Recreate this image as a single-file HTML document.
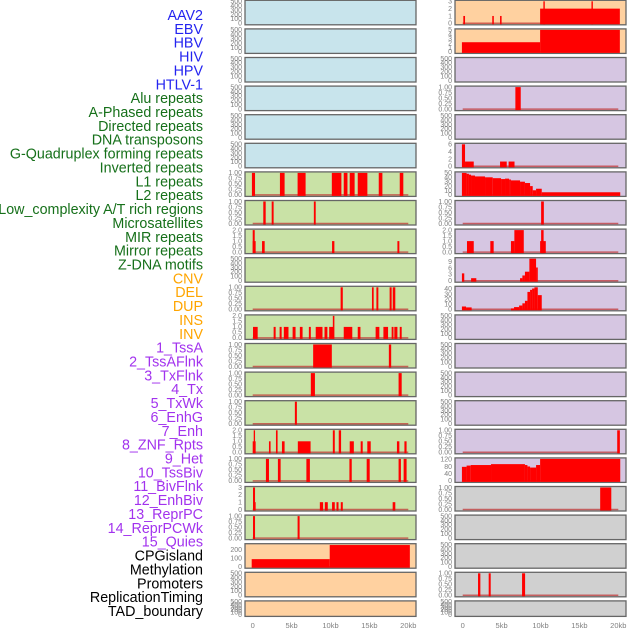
<!DOCTYPE html>
<html><head><meta charset="utf-8"><style>
html,body{margin:0;padding:0;background:#fff;width:630px;height:630px;overflow:hidden}
svg{display:block;font-family:"Liberation Sans",sans-serif}
</style></head><body>
<svg id="chart" width="630" height="630" viewBox="0 0 630 630" xmlns="http://www.w3.org/2000/svg"></svg>
<script>
const trackLabels=["AAV2","EBV","HBV","HIV","HPV","HTLV-1","Alu repeats","A-Phased repeats","Directed repeats","DNA transposons","G-Quadruplex forming repeats","Inverted repeats","L1 repeats","L2 repeats","Low_complexity A/T rich regions","Microsatellites","MIR repeats","Mirror repeats","Z-DNA motifs","CNV","DEL","DUP","INS","INV","1_TssA","2_TssAFlnk","3_TxFlnk","4_Tx","5_TxWk","6_EnhG","7_Enh","8_ZNF_Rpts","9_Het","10_TssBiv","11_BivFlnk","12_EnhBiv","13_ReprPC","14_ReprPCWk","15_Quies","CPGisland","Methylation","Promoters","ReplicationTiming","TAD_boundary"];
const labelGroups=[6,13,5,15,5];
const groupColors=["#2424f0","#16701a","#ffa500","#a232ee","#000000"];
const xTickKb=[0,5,10,15,20];
const xTickLabels=["0","5kb","10kb","15kb","20kb"];
const T500=["0","100","200","300","400","500"];
const T1=["0.00","0.25","0.50","0.75","1.00"];
const T2=["0.0","0.5","1.0","1.5","2.0"];
const T3=["0","1","2","3"];
const leftBg=["b","b","b","b","b","b","g","g","g","g","g","g","g","g","g","g","g","g","g","o","o","o"];
const rightBg=["o","o","p","p","p","p","p","p","p","p","p","p","p","p","p","p","p","y","y","y","y","y"];
const leftTicks=[T500,T500,T500,T500,T500,T500,T1,T1,T2,T500,T1,T2,T1,T1,T1,T2,T1,T3,T1,["0","100","200"],T500,T500];
const leftYmax=[500,500,500,500,500,500,1,1,2,500,1,2,1,1,1,2,1,3,1,262,500,500];
const leftBars=[[],[],[],[],[],[],
[[-0.1,0.3,1],[3.5,4.1,1],[5.77,6.8,1],[10.17,11.4,1],[11.7,12.18,1],[12.47,13.1,1],[13.5,14.74,1],[16.2,16.67,1],[18.9,19.36,1]],
[[1.36,1.67,1],[2.44,2.69,1],[7.86,8.1,1]],
[[0,0.38,1],[0,0.26,2],[1.2,1.54,1],[10.2,10.5,1],[18.6,18.85,1]],
[],
[[11.3,11.58,1],[15.33,15.55,1],[15.9,16.15,1],[17.6,17.86,1],[18,18.33,1]],
[[0.04,0.64,1],[2.69,2.95,1],[3.46,3.72,1],[4.0,4.6,1],[5.13,5.51,1],[6.06,6.41,1],[7.22,7.47,1],[8.1,8.97,1],[9.23,9.6,1],[9.83,10.33,1],[10.3,10.5,2],[11.7,12.8,1],[13.5,13.85,1],[15.8,16.28,1],[16.8,17.4,1],[17.86,18.1,1],[18.2,18.6,1],[18.9,19.15,1]],
[[7.77,10.17,1],[17.5,17.8,1]],
[[7.47,8,1],[18.75,19.15,1]],
[[5.42,5.68,1]],
[[0,0.38,1],[0.13,0.3,2],[2.09,2.3,1],[2.99,3.2,2],[3.76,4.1,1],[5.8,7.44,1],[10.3,10.55,2],[11.06,11.36,2],[12.47,13,1],[13.88,14.14,1],[14.73,15.17,1],[18.54,18.85,1],[19.5,19.78,1]],
[[1.7,2.09,1],[3.24,3.59,1],[6.9,7.35,1],[12.43,12.73,1],[14.65,15.04,1],[18.75,19.05,1],[19.4,19.78,1]],
[[0.04,0.38,1],[0.04,0.3,3],[8.63,9.05,1],[9.27,9.65,1],[10.2,10.55,1],[10.77,11.03,1],[11.32,11.58,1],[17.99,18.33,1]],
[[0.04,0.3,1],[5.77,6.03,1]],
[[-0.13,9.9,90],[9.9,20.2,258]],
[],[]];
const rightTicks=[T3,["0","1","2","3","4","5"],T500,T1,T500,["0","2","4","6"],["0","10","20","30","40","50"],T1,T2,["0","3","6","9"],["0","10","20","30","40"],T500,T500,T500,T500,T1,["0","40","80","120"],T1,T500,T500,T1,T500];
const rightYmax=[3,5,500,1,500,6,50,1,2,10.5,43,500,500,500,500,1,122,1,500,500,1,500];
const rightBars=[
[[0.08,0.3,1],[3.8,4.0,1],[4.8,5.0,1],[9.95,20.2,2],[10.37,10.55,3],[16.55,16.73,3]],
[[-0.1,9.95,2.2],[9.95,20.2,5]],
[],
[[6.77,7.46,1]],
[],
[[-0.1,0.3,6],[0.3,1.42,1.3],[4.8,5.66,1.3],[5.9,6.66,1.3]],
[[-0.1,0.5,50],[0.5,0.8,48],[0.8,1.07,46],[1.07,1.58,44],[1.58,2.87,42],[2.87,3.86,40],[3.86,4.93,38],[4.93,5.44,36],[5.44,5.96,37],[5.96,6.2,35],[6.2,7.37,33],[7.37,8.0,30],[8.0,8.66,27],[8.66,9.0,20],[9.0,9.43,10.5],[9.43,10.16,14],[10.16,20.25,6]],
[[10.08,10.43,1]],
[[0.55,1.42,1],[3.55,3.98,1],[6.2,6.64,1],[6.64,7.85,2],[9.95,10.68,1],[10.08,10.4,2]],
[[-0.1,0.2,3.5],[1.08,1.75,1.2],[7.37,7.67,1.2],[7.67,8.0,2.5],[8.0,8.57,4.3],[8.57,9.43,10.5],[9.43,9.65,6.3]],
[[-0.1,0.43,5.5],[0.43,1.15,3.7],[6.2,6.6,1.8],[6.6,7.25,4.3],[7.25,7.67,7.4],[7.67,8.0,11.7],[8.0,8.32,16.6],[8.32,8.66,34],[8.66,8.92,38],[8.92,9.22,40.6],[9.22,9.65,43],[9.65,10.16,27.7]],
[],[],[],[],
[[19.86,20.2,1]],
[[-0.1,0.5,78],[0.5,1.03,85],[1.03,3.64,88],[3.64,8.0,93],[8.0,8.32,88],[8.32,8.66,80],[8.66,9.43,74],[9.43,9.95,88],[9.95,20.25,122]],
[[17.67,19.1,1]],
[],[],
[[1.97,2.27,1],[3.34,3.6,1],[7.63,8.02,1]],
[]];

const NS="http://www.w3.org/2000/svg";
const svg=document.getElementById("chart");
const bgColors={b:"#c8e4ec",g:"#c9e2a6",o:"#ffd1a0",p:"#d6c6e2",y:"#d0d0d0"};
function mk(tag,attrs,parent){const e=document.createElementNS(NS,tag);for(const k in attrs)e.setAttribute(k,attrs[k]);(parent||svg).appendChild(e);return e;}
function rowTop(i){return 0.3+28.6*i;}
function rowH(i){return i===21?15.5:24.5;}
function xScale(colX,kb){return colX+7.7+kb*7.78;}

let li=0;
labelGroups.forEach((n,g)=>{for(let k=0;k<n;k++){const t=mk("text",{x:203,y:15+13.86*li+5,"text-anchor":"end","font-size":"14.3",fill:groupColors[g]});


t.textContent=trackLabels[li];li++;}});

function drawCol(colX,bgs,ticks,ymaxs,bars,side){
  for(let i=0;i<22;i++){
    const top=rowTop(i),h=rowH(i);
    const g=mk("g",{});
    
    
    const r=mk("rect",{x:colX,y:top,width:171,height:h,fill:bgColors[bgs[i]],stroke:"#666","stroke-width":1.3},g);
    
    
    const base=top+h-1.5,tp=top+1;
    const yS=v=>base-v/ymaxs[i]*(base-tp);
    if(bars[i].length){
      const bl=mk("line",{x1:xScale(colX,0),x2:xScale(colX,20),y1:base,y2:base,stroke:"#c03030","stroke-width":1.5,opacity:0.7},g);
      
      
    }
    bars[i].forEach(b=>{
      const x0=xScale(colX,b[0]),x1=xScale(colX,b[1]),y=yS(b[2]);
      const br=mk("rect",{x:x0,y:y,width:Math.max(1.2,x1-x0),height:base+1-y,fill:"#ff0000"},g);
      
      
    });
    ticks[i].forEach(t=>{
      const tt=mk("text",{x:colX-3,y:yS(Number(t))+2.3,"text-anchor":"end","font-size":"7",fill:"#808080"},g);
      
      
      tt.textContent=t;
    });
  }
  xTickKb.forEach((kb,j)=>{
    const t=mk("text",{x:xScale(colX,kb),y:628,"text-anchor":"middle","font-size":"7.5",fill:"#808080"});
    
    
    t.textContent=xTickLabels[j];
  });
}
drawCol(245,leftBg,leftTicks,leftYmax,leftBars,"left");
drawCol(455,rightBg,rightTicks,rightYmax,rightBars,"right");
</script>
</body></html>
